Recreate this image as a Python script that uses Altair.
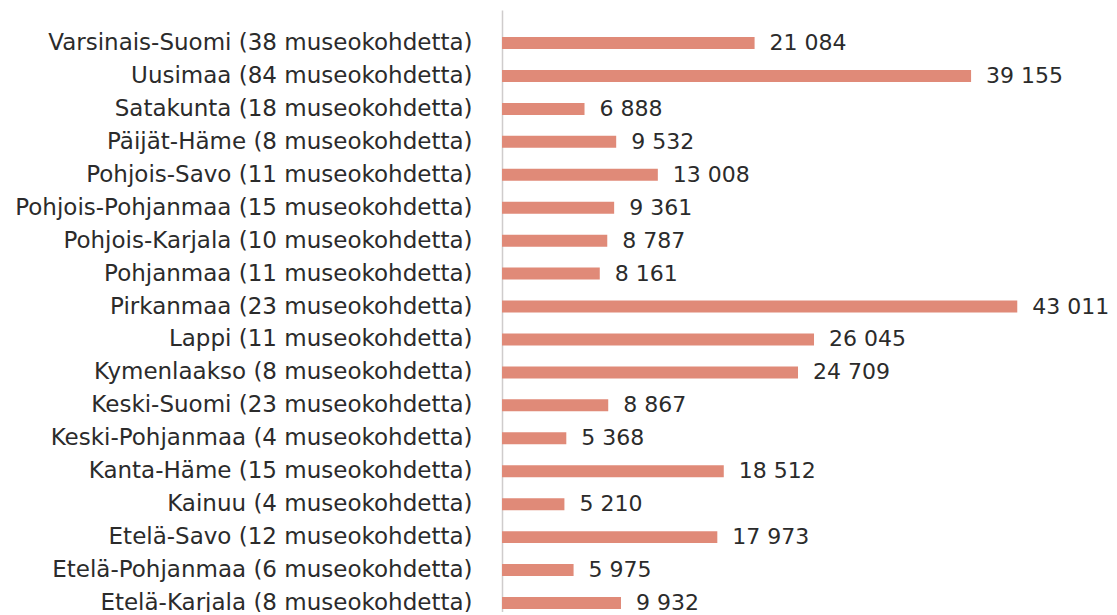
import altair as alt
import pandas as pd

regions = [
    "Varsinais-Suomi (38 museokohdetta)",
    "Uusimaa (84 museokohdetta)",
    "Satakunta (18 museokohdetta)",
    "Päijät-Häme (8 museokohdetta)",
    "Pohjois-Savo (11 museokohdetta)",
    "Pohjois-Pohjanmaa (15 museokohdetta)",
    "Pohjois-Karjala (10 museokohdetta)",
    "Pohjanmaa (11 museokohdetta)",
    "Pirkanmaa (23 museokohdetta)",
    "Lappi (11 museokohdetta)",
    "Kymenlaakso (8 museokohdetta)",
    "Keski-Suomi (23 museokohdetta)",
    "Keski-Pohjanmaa (4 museokohdetta)",
    "Kanta-Häme (15 museokohdetta)",
    "Kainuu (4 museokohdetta)",
    "Etelä-Savo (12 museokohdetta)",
    "Etelä-Pohjanmaa (6 museokohdetta)",
    "Etelä-Karjala (8 museokohdetta)",
]
values = [21084, 39155, 6888, 9532, 13008, 9361, 8787, 8161, 43011,
          26045, 24709, 8867, 5368, 18512, 5210, 17973, 5975, 9932]

df = pd.DataFrame({
    "region": regions,
    "value": values,
    "label": [f"{v:,}".replace(",", " ") for v in values],
})

FONT = "DejaVu Sans"
FS = 23
BAR = "#E08A78"
TXT = "#2b2b2b"

y = alt.Y("region:N", sort=None, title=None,
          scale=alt.Scale(paddingInner=0.636, paddingOuter=0.456, align=0.9),
          axis=alt.Axis(ticks=False, labelPadding=30, labelFontSize=FS,
                        labelFont=FONT, labelColor=TXT, labelLimit=600,
                        labelFontWeight="normal",
                        domainColor="#cfcccc", domainWidth=1.5, grid=False))
x = alt.X("value:Q", title=None, scale=alt.Scale(domain=[0, 50000], nice=False),
          axis=None)

bars = alt.Chart(df).mark_bar(color=BAR).encode(x=x, y=y)
text = alt.Chart(df).mark_text(align="left", baseline="middle", dx=15,
                                fontSize=22, font=FONT, color=TXT).encode(
    x=x, y=alt.Y("region:N", sort=None), text="label:N")

chart = (bars + text).properties(
    width=599, height=602,
    autosize=alt.AutoSizeParams(type="none"),
    padding={"left": 494, "top": 2, "right": 8, "bottom": 0},
).configure_view(stroke=None)

chart.save("out.html", embed_options={"renderer": "svg", "actions": False})
